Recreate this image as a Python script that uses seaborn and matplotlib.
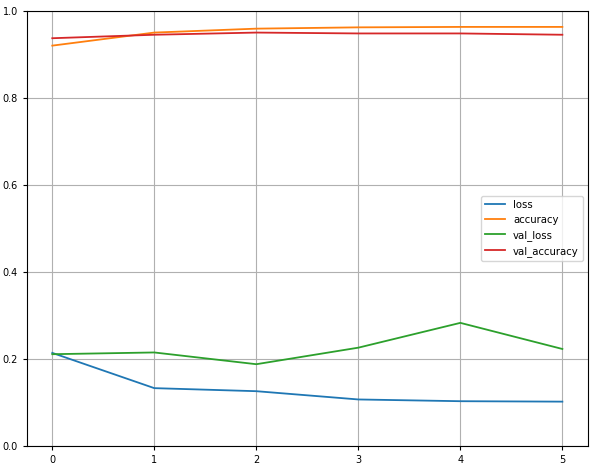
import pandas as pd
import matplotlib.pyplot as plt
import seaborn as sns

# Training history
epochs = [0, 1, 2, 3, 4, 5]
loss = [0.214, 0.133, 0.126, 0.107, 0.103, 0.102]
accuracy = [0.920, 0.950, 0.959, 0.962, 0.963, 0.963]
val_loss = [0.211, 0.215, 0.188, 0.226, 0.283, 0.223]
val_accuracy = [0.937, 0.945, 0.950, 0.948, 0.948, 0.945]

hist = pd.DataFrame({
    "epoch": epochs,
    "loss": loss,
    "accuracy": accuracy,
    "val_loss": val_loss,
    "val_accuracy": val_accuracy,
})
long_df = hist.melt(id_vars="epoch", var_name="metric", value_name="value")

fig, ax = plt.subplots(figsize=(5.95, 4.70), dpi=100)
fig.subplots_adjust(left=0.045, right=0.988, top=0.977, bottom=0.051)

sns.lineplot(data=long_df, x="epoch", y="value", hue="metric",
             palette="tab10", linewidth=1.3, ax=ax)

ax.set_ylim(0, 1)
ax.set_xlabel("")
ax.set_ylabel("")
ax.grid(True, color="#b0b0b0", linewidth=0.8)
ax.tick_params(labelsize=7, length=3)
ax.legend(loc="center right", fontsize=7.3, title=None)

plt.savefig("out.png")
